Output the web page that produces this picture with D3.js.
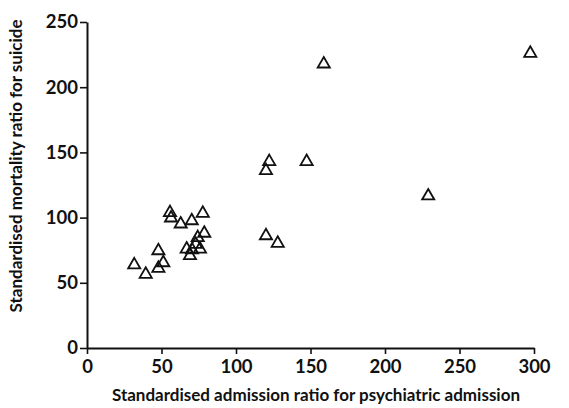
<!DOCTYPE html>
<html>
<head>
<meta charset="utf-8">
<script src="https://cdn.jsdelivr.net/npm/d3@7"></script>
<style>
  body { margin: 0; background: #fff; }
  text { font-family: Lato, "Open Sans", sans-serif; fill: #111; }
</style>
</head>
<body>
<div id="chart"></div>
<script>
// standardised admission ratio (x) and mortality ratio for suicide (y)
var admissionRatio = [31.7, 39.4, 47.9, 51.2, 47.9, 55.7, 56.4, 62.9, 70.3, 77.7,
                      78.7, 74.3, 73.0, 66.9, 75.8, 69.1, 70.5, 122.3, 120.1, 147.4,
                      120.1, 128.0, 158.9, 297.5, 229.0];
var mortalityRatio = [63.7, 56.5, 74.6, 65.4, 61.1, 103.8, 99.7, 95.1, 97.6, 103.3,
                      88.0, 84.6, 79.5, 75.9, 75.9, 70.8, 75.2, 142.9, 136.0, 143.0,
                      86.1, 80.3, 217.8, 226.0, 116.6];
var xTicks = [0, 50, 100, 150, 200, 250, 300];
var yTicks = [0, 50, 100, 150, 200, 250];

var W = 569, H = 408;
var margin = {top: 22, right: 35, bottom: 60, left: 87};
var width = W - margin.left - margin.right,
    height = H - margin.top - margin.bottom;

var svg = d3.select("#chart").append("svg")
    .attr("width", W).attr("height", H);
var g = svg.append("g")
    .attr("transform", "translate(" + margin.left + "," + margin.top + ")");

var x = d3.scaleLinear().domain([0, 300]).range([0, width]);
var y = d3.scaleLinear().domain([0, 250]).range([height, 0]);

var xAxis = g.append("g")
    .attr("transform", "translate(0," + height + ")")
    .call(d3.axisBottom(x).tickValues(xTicks).tickSize(6).tickSizeOuter(0).tickPadding(6));
var yAxis = g.append("g")
    .call(d3.axisLeft(y).tickValues(yTicks).tickSize(7).tickSizeOuter(0).tickPadding(2));

[xAxis, yAxis].forEach(function(a) {
  a.select(".domain").attr("stroke", "#111").attr("stroke-width", 2);
  a.selectAll(".tick line").attr("stroke", "#111").attr("stroke-width", 1.6);
  a.selectAll(".tick text")
    .attr("fill", "#111")
    .style("font-family", "Lato, sans-serif")
    .style("font-size", "18.5px")
    .style("font-weight", "bold");
});

// axis titles
svg.append("text")
    .attr("x", 316)
    .attr("y", 401)
    .attr("text-anchor", "middle")
    .style("font-size", "17px")
    .style("font-weight", "bold")
    .text("Standardised admission ratio for psychiatric admission");

svg.append("text")
    .attr("transform", "translate(22,166) rotate(-90)")
    .attr("text-anchor", "middle")
    .style("font-size", "17px")
    .style("font-weight", "bold")
    .text("Standardised mortality ratio for suicide");

// open triangle markers
var tri = d3.symbol().type(d3.symbolTriangle).size(64);
var pts = admissionRatio.map(function(v, i) { return [v, mortalityRatio[i]]; });
g.selectAll("path.pt")
  .data(pts)
  .enter()
  .append("path")
    .attr("class", "pt")
    .attr("d", tri)
    .attr("transform", function(d) { return "translate(" + x(d[0]) + "," + y(d[1]) + ")"; })
    .attr("fill", "none")
    .attr("stroke", "#111")
    .attr("stroke-width", 1.8);
</script>
</body>
</html>
